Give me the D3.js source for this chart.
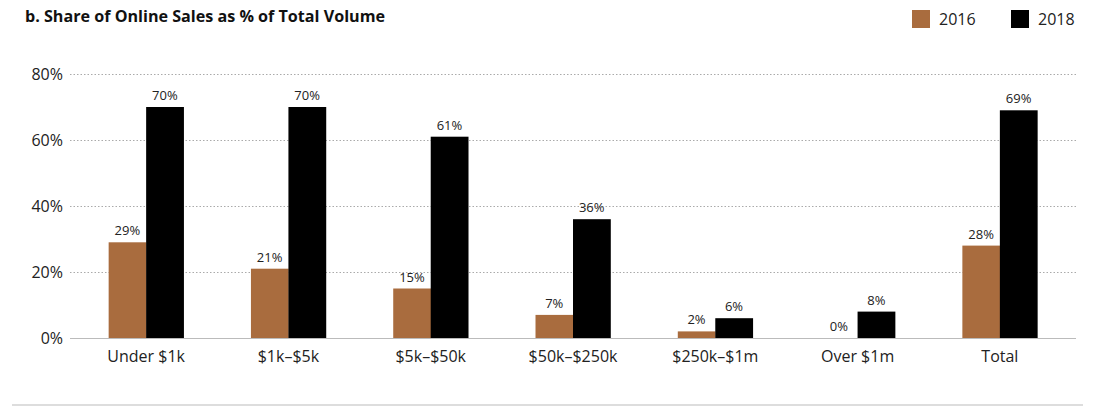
<!DOCTYPE html>
<html><head><meta charset="utf-8">
<script src="https://cdn.jsdelivr.net/npm/d3@7"></script>
<style>body{margin:0;background:#fff;} text{font-family:"Open Sans","Noto Sans",sans-serif;}</style>
</head><body><svg id="c" width="1096" height="406"></svg>
<script>
const categories = ["Under $1k","$1k–$5k","$5k–$50k","$50k–$250k","$250k–$1m","Over $1m","Total"];
const series = ["2016","2018"];
const values2016 = [29,21,15,7,2,0,28];
const values2018 = [70,70,61,36,6,8,69];
const yTicks = [0,20,40,60,80];
const colors = {"2016":"#a96c3e","2018":"#000000"};

const svg = d3.select("#c");
const y = d3.scaleLinear().domain([0,80]).range([338,74]);
const x0 = d3.scaleBand().domain(categories).range([75,1071]).padding(0);
const barW = x0.bandwidth()*0.527;
const x1 = d3.scaleBand().domain(series).range([0,barW]).padding(0);

// title
svg.append("text").attr("x",25).attr("y",22).attr("font-size",16).attr("font-weight","bold").attr("fill","#111")
  .attr("textLength",360).attr("lengthAdjust","spacingAndGlyphs")
  .text("b. Share of Online Sales as % of Total Volume");

// grid
const grid = svg.append("g");
yTicks.filter(d=>d>0).forEach(t=>{
  grid.append("line").attr("x1",70).attr("x2",1076).attr("y1",y(t)+0.5).attr("y2",y(t)+0.5)
    .attr("stroke","#aaa").attr("stroke-width",1).attr("stroke-dasharray","1.5,2");
});
// y axis
const yAxis = d3.axisLeft(y).tickValues(yTicks).tickFormat(d=>d+"%").tickSize(0).tickPadding(0);
const ya = svg.append("g").attr("transform","translate(63,0)").call(yAxis);
ya.select(".domain").remove();
ya.selectAll("text").attr("font-size",16).attr("fill","#222").attr("font-family","Open Sans, Noto Sans, sans-serif");

// bars
const data = categories.map((c,i)=>({c, v:{"2016":values2016[i],"2018":values2018[i]}}));
const g = svg.append("g");
data.forEach(d=>{
  const cx = x0(d.c)+x0.bandwidth()/2;
  const gx = cx - barW/2;
  series.forEach(s=>{
    const v = d.v[s];
    g.append("rect").attr("x",gx+x1(s)).attr("width",x1.bandwidth()+0.3)
      .attr("y",y(v)).attr("height",y(0)-y(v)).attr("fill",colors[s]);
    g.append("text").attr("x",gx+x1(s)+x1.bandwidth()/2).attr("y",y(v)-7)
      .attr("text-anchor","middle").attr("font-size",13).attr("fill","#222").text(v+"%");
  });
});

// baseline
svg.append("line").attr("x1",70).attr("x2",1076).attr("y1",338.5).attr("y2",338.5).attr("stroke","#bbb").attr("stroke-width",1);

// x axis labels
const xAxis = d3.axisBottom(x0).tickSize(0).tickPadding(0);
const xa = svg.append("g").attr("transform","translate(0,351)").call(xAxis);
xa.select(".domain").remove();
xa.selectAll("text").attr("font-size",16).attr("fill","#222").attr("dy","0.71em").attr("font-family","Open Sans, Noto Sans, sans-serif");

// legend
const leg = [{s:"2016",x:912},{s:"2018",x:1011}];
leg.forEach(l=>{
  svg.append("rect").attr("x",l.x).attr("y",10).attr("width",18).attr("height",18).attr("fill",colors[l.s]);
  svg.append("text").attr("x",l.x+27).attr("y",25).attr("font-size",16).attr("fill","#222").text(l.s);
});

// bottom rule
svg.append("line").attr("x1",12).attr("x2",1083).attr("y1",405).attr("y2",405).attr("stroke","#ddd").attr("stroke-width",2);
</script></body></html>
